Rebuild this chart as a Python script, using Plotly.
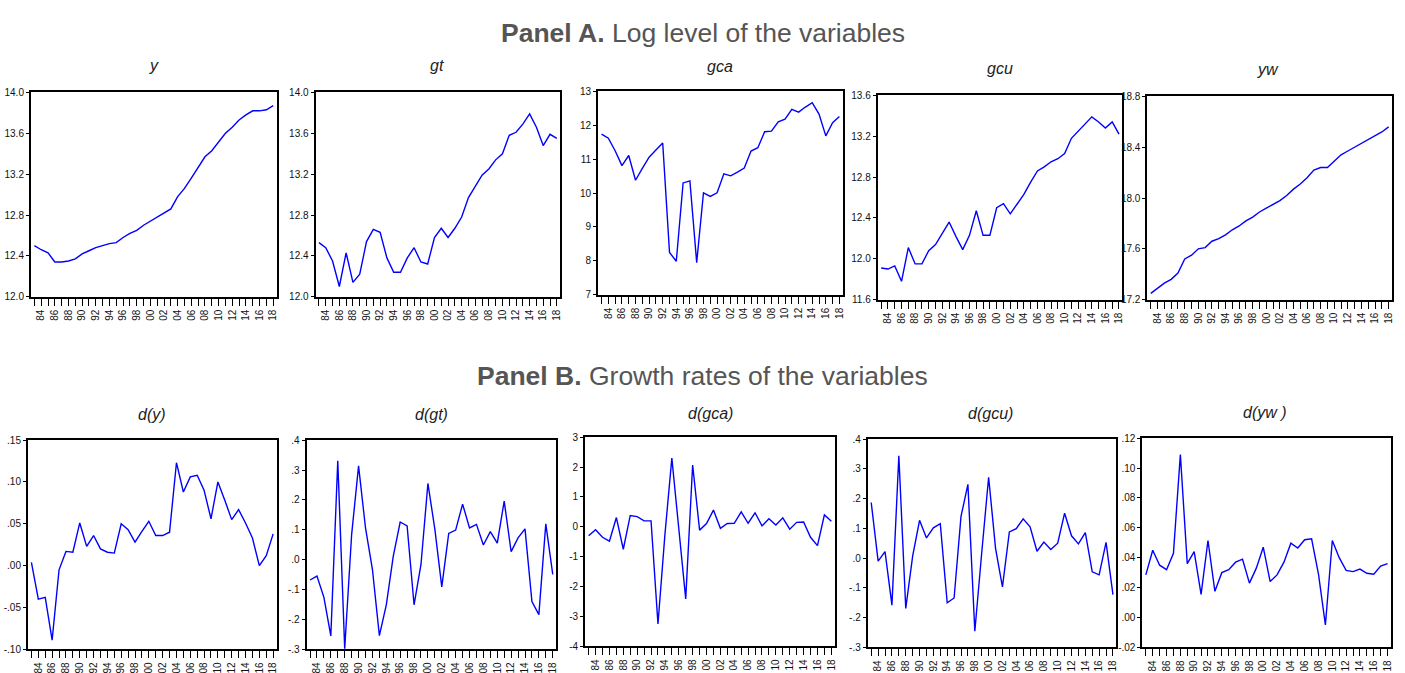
import plotly.graph_objects as go

years = list(range(1983, 2019))

# ---- Panel A: log levels ----
y_level = [12.50, 12.46, 12.43, 12.34, 12.34, 12.35, 12.37, 12.42, 12.45, 12.48,
           12.50, 12.52, 12.53, 12.58, 12.62, 12.65, 12.70, 12.74, 12.78, 12.82,
           12.86, 12.98, 13.06, 13.16, 13.27, 13.37, 13.43, 13.52, 13.60, 13.66,
           13.73, 13.78, 13.82, 13.82, 13.83, 13.87]
gt_level = [12.53, 12.48, 12.35, 12.10, 12.43, 12.14, 12.22, 12.54, 12.66, 12.63,
            12.38, 12.24, 12.24, 12.38, 12.48, 12.34, 12.32, 12.58, 12.67, 12.58,
            12.67, 12.78, 12.97, 13.08, 13.19, 13.25, 13.34, 13.40, 13.58, 13.61,
            13.69, 13.79, 13.66, 13.48, 13.59, 13.55]
gca_level = [11.74, 11.62, 11.25, 10.81, 11.11, 10.38, 10.73, 11.06, 11.27, 11.48,
             8.25, 7.99, 10.30, 10.36, 7.95, 10.01, 9.90, 10.01, 10.57, 10.51,
             10.62, 10.74, 11.24, 11.34, 11.81, 11.83, 12.10, 12.18, 12.47, 12.39,
             12.54, 12.67, 12.33, 11.69, 12.08, 12.26]
gcu_level = [11.91, 11.90, 11.93, 11.78, 12.11, 11.95, 11.95, 12.08, 12.14, 12.25,
             12.36, 12.22, 12.09, 12.23, 12.47, 12.23, 12.23, 12.50, 12.54, 12.44,
             12.53, 12.63, 12.75, 12.86, 12.90, 12.95, 12.98, 13.03, 13.18, 13.25,
             13.31, 13.39, 13.34, 13.28, 13.34, 13.22]
yw_level = [17.25, 17.29, 17.33, 17.36, 17.41, 17.52, 17.55, 17.60, 17.61, 17.66,
            17.68, 17.71, 17.75, 17.78, 17.82, 17.85, 17.89, 17.92, 17.95, 17.98,
            18.02, 18.07, 18.11, 18.16, 18.22, 18.24, 18.24, 18.29, 18.34, 18.37,
            18.40, 18.43, 18.46, 18.49, 18.52, 18.56]

# ---- Panel B: growth rates ----
d_y = [0.004, -0.040, -0.038, -0.089, -0.005, 0.017, 0.016, 0.051, 0.023, 0.036,
       0.020, 0.016, 0.015, 0.050, 0.043, 0.028, 0.041, 0.053, 0.036, 0.036,
       0.040, 0.123, 0.088, 0.106, 0.108, 0.090, 0.056, 0.100, 0.078, 0.055,
       0.067, 0.051, 0.033, 0.000, 0.012, 0.038]
d_gt = [-0.068, -0.055, -0.126, -0.255, 0.331, -0.298, 0.084, 0.314, 0.106, -0.033,
        -0.254, -0.151, 0.011, 0.126, 0.113, -0.151, -0.016, 0.255, 0.102, -0.091,
        0.088, 0.099, 0.186, 0.106, 0.118, 0.049, 0.094, 0.055, 0.196, 0.027,
        0.073, 0.103, -0.140, -0.184, 0.120, -0.049]
d_gca = [-0.30, -0.10, -0.35, -0.48, 0.31, -0.75, 0.38, 0.34, 0.20, 0.20,
         -3.25, -0.26, 2.30, 0.06, -2.41, 2.07, -0.11, 0.11, 0.56, -0.05,
         0.11, 0.12, 0.50, 0.12, 0.47, 0.03, 0.27, 0.06, 0.30, -0.08,
         0.15, 0.16, -0.35, -0.63, 0.40, 0.19]
d_gcu = [0.187, -0.010, 0.022, -0.158, 0.344, -0.169, 0.007, 0.127, 0.068, 0.102,
         0.116, -0.150, -0.134, 0.140, 0.248, -0.246, 0.018, 0.272, 0.033, -0.097,
         0.088, 0.099, 0.132, 0.105, 0.023, 0.054, 0.029, 0.050, 0.151, 0.075,
         0.048, 0.086, -0.046, -0.056, 0.053, -0.123]
d_yw = [0.0285, 0.045, 0.035, 0.032, 0.043, 0.109, 0.036, 0.044, 0.0155, 0.0515,
        0.0175, 0.030, 0.032, 0.037, 0.039, 0.023, 0.033, 0.047, 0.024, 0.0285,
        0.037, 0.0497, 0.0465, 0.052, 0.0526, 0.029, -0.005, 0.0515, 0.040, 0.0315,
        0.0307, 0.0324, 0.0296, 0.029, 0.0344, 0.036]

# ---- titles and tick labels ----
panel_titles = ["<b>Panel A.</b> Log level of the variables",
                "<b>Panel B.</b> Growth rates of the variables"]
sub_titles = ["y", "gt", "gca", "gcu", "yw", "d(y)", "d(gt)", "d(gca)", "d(gcu)", "d(yw )"]
series = [y_level, gt_level, gca_level, gcu_level, yw_level, d_y, d_gt, d_gca, d_gcu, d_yw]

ytick_vals = [
    [12.0, 12.4, 12.8, 13.2, 13.6, 14.0],
    [12.0, 12.4, 12.8, 13.2, 13.6, 14.0],
    [7, 8, 9, 10, 11, 12, 13],
    [11.6, 12.0, 12.4, 12.8, 13.2, 13.6],
    [17.2, 17.6, 18.0, 18.4, 18.8],
    [-0.10, -0.05, 0.00, 0.05, 0.10, 0.15],
    [-0.3, -0.2, -0.1, 0.0, 0.1, 0.2, 0.3, 0.4],
    [-4, -3, -2, -1, 0, 1, 2, 3],
    [-0.3, -0.2, -0.1, 0.0, 0.1, 0.2, 0.3, 0.4],
    [-0.02, 0.00, 0.02, 0.04, 0.06, 0.08, 0.10, 0.12],
]
ytick_text = [
    ["12.0", "12.4", "12.8", "13.2", "13.6", "14.0"],
    ["12.0", "12.4", "12.8", "13.2", "13.6", "14.0"],
    ["7", "8", "9", "10", "11", "12", "13"],
    ["11.6", "12.0", "12.4", "12.8", "13.2", "13.6"],
    ["17.2", "17.6", "18.0", "18.4", "18.8"],
    ["-.10", "-.05", ".00", ".05", ".10", ".15"],
    ["-.3", "-.2", "-.1", ".0", ".1", ".2", ".3", ".4"],
    ["-4", "-3", "-2", "-1", "0", "1", "2", "3"],
    ["-.3", "-.2", "-.1", ".0", ".1", ".2", ".3", ".4"],
    ["-.02", ".00", ".02", ".04", ".06", ".08", ".10", ".12"],
]
xtick_text = [f"{yr % 100:02d}" if yr % 2 == 0 else "" for yr in years]

# ---- layout geometry (pixels) ----
W, H = 1405, 673
boxes = [  # left, right, top, bottom
    (31, 277, 88, 296), (316, 561, 88, 296), (599, 844, 87, 294),
    (879, 1124, 91, 299), (1149, 1394, 92, 299),
    (28, 277, 442, 655), (307, 557, 442, 655), (586, 836, 439, 652),
    (869, 1118, 441, 653), (1144, 1393, 440, 653),
]
sub_pos = [(154, 61), (438, 61), (721, 62), (1001, 64), (1270, 65),
           (152, 416), (432, 416), (712, 415), (992, 415), (1267, 414)]

FONT = "Liberation Sans, Arial, Helvetica, sans-serif"

fig = go.Figure()
layout = dict(
    width=W, height=H, margin=dict(l=0, r=0, t=0, b=0),
    paper_bgcolor="white", plot_bgcolor="white", showlegend=False,
    font=dict(family=FONT, size=10, color="#111111"),
    annotations=[],
)

for i, vals in enumerate(series):
    k = i + 1
    xa = "x" if k == 1 else f"x{k}"
    ya = "y" if k == 1 else f"y{k}"
    fig.add_trace(go.Scatter(x=years, y=vals, mode="lines",
                             line=dict(color="#0000FF", width=1.4),
                             xaxis=xa, yaxis=ya, hoverinfo="skip"))
    l, r, t, b = boxes[i]
    common = dict(showgrid=False, zeroline=False, showline=True, linecolor="black",
                  linewidth=2, mirror=True, ticks="outside", tickcolor="black",
                  tickwidth=1, tickfont=dict(family=FONT, size=10, color="#111111"))
    layout["xaxis" if k == 1 else f"xaxis{k}"] = dict(
        domain=[l / W, r / W], anchor=ya, range=[1982.5, 2018.5],
        tickmode="array", tickvals=years, ticktext=xtick_text,
        tickangle=-90, ticklen=7, **common)
    layout["yaxis" if k == 1 else f"yaxis{k}"] = dict(
        domain=[1 - b / H, 1 - t / H], anchor=xa,
        range=[ytick_vals[i][0], ytick_vals[i][-1]],
        tickmode="array", tickvals=ytick_vals[i], ticktext=ytick_text[i],
        ticklen=3, **common)
    sx, sy = sub_pos[i]
    layout["annotations"].append(dict(
        text=f"<i>{sub_titles[i]}</i>", x=sx / W, y=1 - sy / H, xref="paper", yref="paper",
        showarrow=False, xanchor="center", yanchor="middle",
        font=dict(family=FONT, size=16, color="#222222")))

for txt, yy in zip(panel_titles, [27, 377]):
    layout["annotations"].append(dict(
        text=txt, x=704 / W, y=1 - yy / H, xref="paper", yref="paper",
        showarrow=False, xanchor="center", yanchor="middle",
        font=dict(family=FONT, size=26.5, color="#555555")))

fig.update_layout(**layout)
fig.write_html("out.html")
